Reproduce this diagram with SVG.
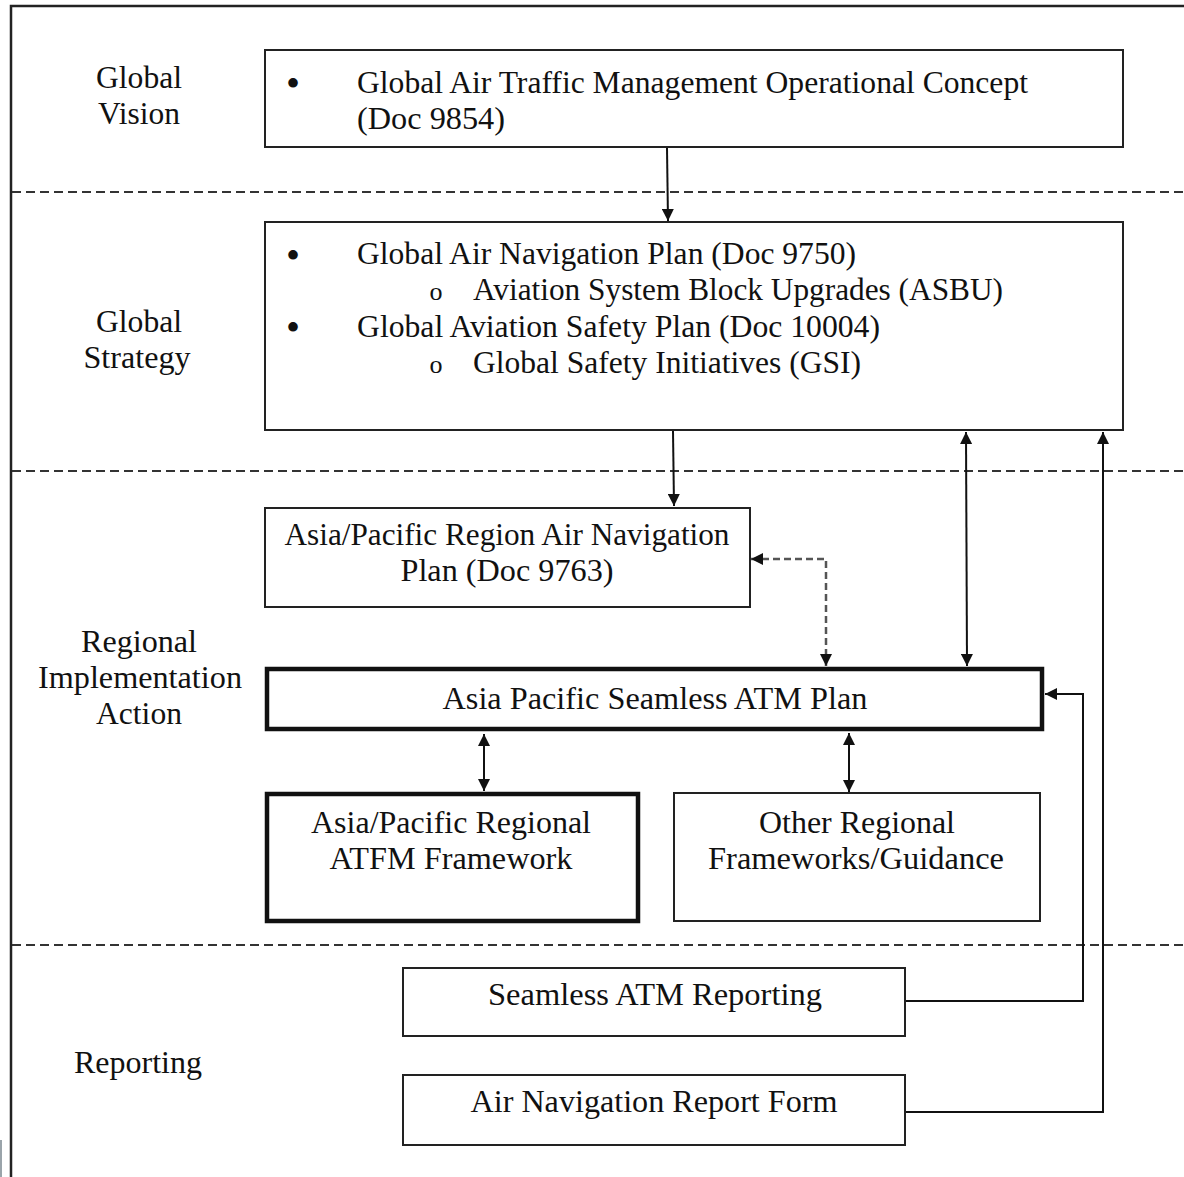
<svg xmlns="http://www.w3.org/2000/svg" width="1184" height="1177" viewBox="0 0 1184 1177">
<defs>
<style>
text{font-family:"Liberation Serif","Times New Roman",serif;font-size:31px;fill:#111;}
.c{text-anchor:middle;}
.lab{font-size:32.5px;text-anchor:middle;}
.bul{font-size:40px;text-anchor:middle;}
.sub{font-size:26px;text-anchor:middle;}
.box{fill:#fff;stroke:#222;stroke-width:2;}
.thick{fill:#fff;stroke:#111;stroke-width:4.5;}
.sep{stroke:#333;stroke-width:2;stroke-dasharray:9 5;fill:none;}
.con{stroke:#111;stroke-width:2;fill:none;}
.dcon{stroke:#555;stroke-width:2.5;fill:none;stroke-dasharray:7 4;}
</style>
<marker id="ah" markerWidth="12" markerHeight="12" refX="12" refY="6" orient="auto-start-reverse" markerUnits="userSpaceOnUse">
<path d="M0,0 L12,6 L0,12 z" fill="#111"/>
</marker>
</defs>
<rect width="1184" height="1177" fill="#fff"/>
<rect x="0" y="1140" width="2" height="37" fill="#9aa4aa"/>
<path d="M11,1177 V6 H1184" fill="none" stroke="#222" stroke-width="2.5"/>
<g id="separators">
<line class="sep" x1="12" y1="192" x2="1184" y2="192"/>
<line class="sep" x1="12" y1="471" x2="1184" y2="471"/>
<line class="sep" x1="12" y1="945" x2="1184" y2="945"/>
</g>
<g id="labels">
<text class="lab" x="139" y="88" textLength="86" lengthAdjust="spacingAndGlyphs">Global</text>
<text class="lab" x="139" y="124" textLength="82" lengthAdjust="spacingAndGlyphs">Vision</text>
<text class="lab" x="139" y="332" textLength="86" lengthAdjust="spacingAndGlyphs">Global</text>
<text class="lab" x="137" y="368" textLength="107" lengthAdjust="spacingAndGlyphs">Strategy</text>
<text class="lab" x="139" y="652" textLength="116" lengthAdjust="spacingAndGlyphs">Regional</text>
<text class="lab" x="140" y="688" textLength="204" lengthAdjust="spacingAndGlyphs">Implementation</text>
<text class="lab" x="139" y="724" textLength="86" lengthAdjust="spacingAndGlyphs">Action</text>
<text class="lab" x="138" y="1073" textLength="128" lengthAdjust="spacingAndGlyphs">Reporting</text>
</g>
<g id="connectors">
<line class="con" x1="667" y1="148" x2="668" y2="221" marker-end="url(#ah)"/>
<line class="con" x1="673" y1="431" x2="674" y2="506" marker-end="url(#ah)"/>
<line class="con" x1="966" y1="432" x2="967" y2="666" marker-start="url(#ah)" marker-end="url(#ah)"/>
<path class="dcon" d="M751,559 H826 V666" marker-start="url(#ah)" marker-end="url(#ah)"/>
<line class="con" x1="484" y1="734" x2="484" y2="791" marker-start="url(#ah)" marker-end="url(#ah)"/>
<line class="con" x1="849" y1="733" x2="849" y2="792" marker-start="url(#ah)" marker-end="url(#ah)"/>
<path class="con" d="M906,1001 H1083 V694 H1045" marker-end="url(#ah)"/>
<path class="con" d="M906,1112 H1103 V432" marker-end="url(#ah)"/>
</g>
<g id="node-vision">
<rect class="box" x="265" y="50" width="858" height="97"/>
<text class="bul" x="293" y="97">•</text>
<text x="357" y="93" textLength="671" lengthAdjust="spacingAndGlyphs">Global Air  Traffic Management Operational Concept</text>
<text x="357" y="129" textLength="148" lengthAdjust="spacingAndGlyphs">(Doc 9854)</text>
</g>
<g id="node-strategy">
<rect class="box" x="265" y="222" width="858" height="208"/>
<text class="bul" x="293" y="269">•</text>
<text x="357" y="264" textLength="499" lengthAdjust="spacingAndGlyphs">Global Air Navigation Plan (Doc 9750)</text>
<text class="sub" x="436" y="300">o</text>
<text x="473" y="300" textLength="530" lengthAdjust="spacingAndGlyphs">Aviation System Block Upgrades (ASBU)</text>
<text class="bul" x="293" y="341">•</text>
<text x="357" y="337" textLength="523" lengthAdjust="spacingAndGlyphs">Global Aviation Safety Plan (Doc 10004)</text>
<text class="sub" x="436" y="373">o</text>
<text x="473" y="373" textLength="388" lengthAdjust="spacingAndGlyphs">Global Safety Initiatives (GSI)</text>
</g>
<g id="node-apanp">
<rect class="box" x="265" y="508" width="485" height="99"/>
<text class="c" x="507" y="545" textLength="445" lengthAdjust="spacingAndGlyphs">Asia/Pacific Region Air Navigation</text>
<text class="c" x="507" y="581" textLength="213" lengthAdjust="spacingAndGlyphs">Plan (Doc 9763)</text>
</g>
<g id="node-seamless-plan">
<rect class="thick" x="267" y="669" width="775" height="60"/>
<text class="c" x="655" y="709" textLength="425" lengthAdjust="spacingAndGlyphs">Asia Pacific Seamless ATM Plan</text>
</g>
<g id="node-atfm">
<rect class="thick" x="267" y="794" width="371" height="127"/>
<text class="c" x="451" y="833" textLength="280" lengthAdjust="spacingAndGlyphs">Asia/Pacific Regional</text>
<text class="c" x="451" y="869" textLength="243" lengthAdjust="spacingAndGlyphs">ATFM Framework</text>
</g>
<g id="node-other">
<rect class="box" x="674" y="793" width="366" height="128"/>
<text class="c" x="857" y="833" textLength="196" lengthAdjust="spacingAndGlyphs">Other Regional</text>
<text class="c" x="856" y="869" textLength="296" lengthAdjust="spacingAndGlyphs">Frameworks/Guidance</text>
</g>
<g id="node-reporting">
<rect class="box" x="403" y="968" width="502" height="68"/>
<text class="c" x="655" y="1005" textLength="334" lengthAdjust="spacingAndGlyphs">Seamless ATM Reporting</text>
</g>
<g id="node-anrf">
<rect class="box" x="403" y="1075" width="502" height="70"/>
<text class="c" x="654" y="1112" textLength="367" lengthAdjust="spacingAndGlyphs">Air Navigation Report Form</text>
</g>
</svg>
